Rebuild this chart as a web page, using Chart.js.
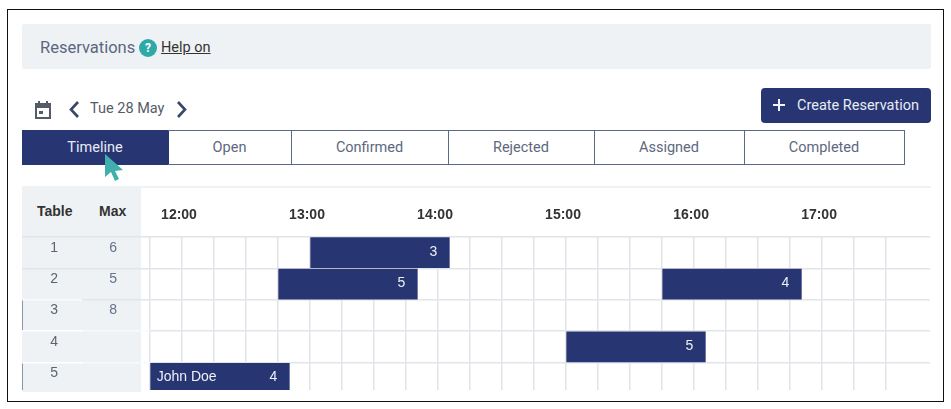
<!DOCTYPE html>
<html>
<head>
<meta charset="utf-8">
<script src="https://cdn.jsdelivr.net/npm/chart.js@4"></script>
<style>
  body { margin: 0; background: #fff; font-family: Roboto, sans-serif; }
  #page { position: relative; width: 951px; height: 409px; overflow: hidden; }
  #page div, #page svg, #page span { position: absolute; }
  .frame { left: 7px; top: 9px; width: 935px; height: 391px; border: 1px solid #111; }
  .head { left: 22px; top: 24px; width: 909px; height: 45px; background: #eff2f5; border-radius: 2px; }
  .tab { top: 130px; height: 33px; line-height: 33px; text-align: center; font-size: 14.5px; color: #5d6880;
         border: 1px solid #5b688c; border-left-width: 0; box-sizing: content-box; }
  .tab.on { background: #273673; color: #e8ebf3; border-color: #273673; }
  .panel { left: 22px; top: 188px; width: 119px; height: 204px; background: #eff2f5; }
  .th { top: 203px; font: bold 14px "Liberation Sans", Arial, sans-serif; color: #333; }
  #wrap { left: 22px; top: 188px; width: 909px; height: 202px; overflow: hidden; }
  canvas { display: block; }
</style>
</head>
<body>
<div id="page">
  <div class="frame"></div>
  <div class="head"></div>
  <span style="left:40px;top:38px;font-size:16.5px;color:#5a6780">Reservations</span>
  <div style="left:139px;top:39px;width:18px;height:18px;border-radius:50%;background:#2fa9a8;color:#fff;font:bold 12px/18px Roboto;text-align:center">?</div>
  <span style="left:161px;top:39px;font-size:14.5px;color:#333;text-decoration:underline">Help on</span>

  <svg style="left:34px;top:100px" width="18" height="20" viewBox="0 0 18 20">
    <path d="M2 4h14v14H2z" fill="none" stroke="#555c68" stroke-width="2"/>
    <path d="M2 4h14v4H2z" fill="#555c68"/>
    <path d="M5 1v3M13 1v3" stroke="#555c68" stroke-width="2"/>
    <rect x="5" y="11" width="4" height="3" fill="#555c68"/>
  </svg>
  <svg style="left:68px;top:100px" width="12" height="19" viewBox="0 0 12 19"><path d="M10 2L3 9.5l7 7.5" fill="none" stroke="#3a4668" stroke-width="2.6"/></svg>
  <span style="left:90px;top:100px;font-size:14.5px;color:#555c68">Tue 28 May</span>
  <svg style="left:176px;top:100px" width="12" height="19" viewBox="0 0 12 19"><path d="M2 2l7 7.5L2 17" fill="none" stroke="#3a4668" stroke-width="2.6"/></svg>

  <div style="left:761px;top:88px;width:170px;height:35px;background:#273673;border-radius:4px"></div>
  <svg style="left:772px;top:98px" width="14" height="14" viewBox="0 0 14 14"><path d="M7 1v12M1 7h12" stroke="#f2f4f8" stroke-width="2"/></svg>
  <span style="left:797px;top:97px;font-size:14.5px;color:#e8ebf3">Create Reservation</span>

  <div class="tab on" style="left:22px;width:146px">Timeline</div>
  <div class="tab" style="left:168px;width:123px">Open</div>
  <div class="tab" style="left:291px;width:157px">Confirmed</div>
  <div class="tab" style="left:448px;width:146px">Rejected</div>
  <div class="tab" style="left:594px;width:150px">Assigned</div>
  <div class="tab" style="left:744px;width:160px">Completed</div>

  <svg style="left:103px;top:153px" width="21" height="29" viewBox="0 0 21 29">
    <path d="M2 1l0 23 6-5 4 9 4-2-4-8 8-1z" fill="#3fb0ad"/>
  </svg>

  <div style="left:22px;top:186px;width:909px;height:2px;background:#f0f2f4"></div>
  <div class="panel"></div>
  <div style="left:22px;top:300px;width:1px;height:31px;background:#8a93a8"></div>
  <div style="left:22px;top:363px;width:1px;height:27px;background:#8a93a8"></div>
  <span class="th" style="left:37px">Table</span>
  <span class="th" style="left:99px">Max</span>

  <div id="wrap"><canvas id="myChart" width="909" height="206"></canvas></div>
</div>

<script>
var tableNames = ['1', '2', '3', '4', '5'];
var maxGuests = ['6', '5', '8', '', ''];
var hourLabels = ['12:00', '13:00', '14:00', '15:00', '16:00', '17:00', '18:00'];

// reservations, minutes counted from the first grid line
var resTable = ['1', '2', '2', '4', '5'];
var resStart = [75.3, 60.3, 240.3, 195.3, 0.3];
var resEnd = [140.3, 125.3, 305.3, 260.3, 65.3];
var resGuests = ['3', '5', '4', '5', '4'];
var resName = ['', '', '', '', 'John Doe'];

var navy = '#273673';
var gridColor = '#e1e4e9';
var bodyFont = { family: '"Liberation Sans", Arial, sans-serif', size: 14 };

var bars = resTable.map((t, i) => {
  return { x: [resStart[i], resEnd[i]], y: t }
});

// names and party sizes written inside the bars
var barText = {
  id: 'barText',
  afterDatasetsDraw(chart) {
    var c = chart.ctx;
    c.save();
    c.font = '14px "Liberation Sans", Arial, sans-serif';
    c.fillStyle = '#eef0f6';
    c.textBaseline = 'middle';
    chart.getDatasetMeta(0).data.forEach((el, i) => {
      c.textAlign = 'right';
      c.fillText(resGuests[i], el.x - 12, el.y - 1);
      if (resName[i]) {
        c.textAlign = 'left';
        c.fillText(resName[i], el.base + 6, el.y - 1);
      }
    });
    c.restore();
  }
};

function yAxis(labels, width, pad, color, weight, onArea, lineColors) {
  return {
    type: 'category',
    axis: 'y',
    labels: labels,
    weight: weight,
    offset: true,
    afterFit: s => { s.width = width },
    border: { display: false },
    grid: {
      offset: true,
      color: gridColor,
      lineWidth: 1.5,
      drawOnChartArea: onArea,
      tickLength: width,
      tickColor: ctx => lineColors[ctx.index] || gridColor
    },
    ticks: { color: color, font: bodyFont, padding: pad, labelOffset: -5, autoSkip: false }
  };
}

var myChart = new Chart(document.getElementById('myChart').getContext('2d'), {
  type: 'bar',
  plugins: [barText],
  data: {
    labels: tableNames,
    datasets: [{
      data: bars,
      backgroundColor: navy,
      barThickness: 30
    }]
  },
  options: {
    indexAxis: 'y',
    responsive: false,
    animation: false,
    layout: { padding: { right: 1 } },
    plugins: { legend: { display: false }, tooltip: { enabled: false } },
    scales: {
      x: {
        type: 'linear',
        position: 'top',
        min: 0,
        max: 365.6,
        afterBuildTicks: s => { s.ticks = s.ticks.filter(t => t.value % 15 === 0) },
        afterFit: s => { s.height = 49; s.paddingLeft = 0; s.paddingRight = 0 },
        border: { display: false },
        grid: { color: gridColor, lineWidth: 1.5, drawTicks: false },
        ticks: {
          stepSize: 15,
          autoSkip: false,
          maxRotation: 0,
          padding: 13,
          labelOffset: 29,
          color: '#333',
          font: { family: bodyFont.family, size: 14, weight: 'bold' },
          callback: v => v % 60 === 0 ? hourLabels[v / 60] : ''
        }
      },
      y: yAxis(tableNames, 60, -36, '#5d6470', 2, true, [gridColor, gridColor, '#f8f9fa', '#fff', '#fff', gridColor]),
      yMax: yAxis(maxGuests, 68, -35, '#66728c', 1, false, [gridColor, gridColor, gridColor, '#f8f9fa', '#f8f9fa', gridColor])
    }
  }
});
</script>
</body>
</html>
